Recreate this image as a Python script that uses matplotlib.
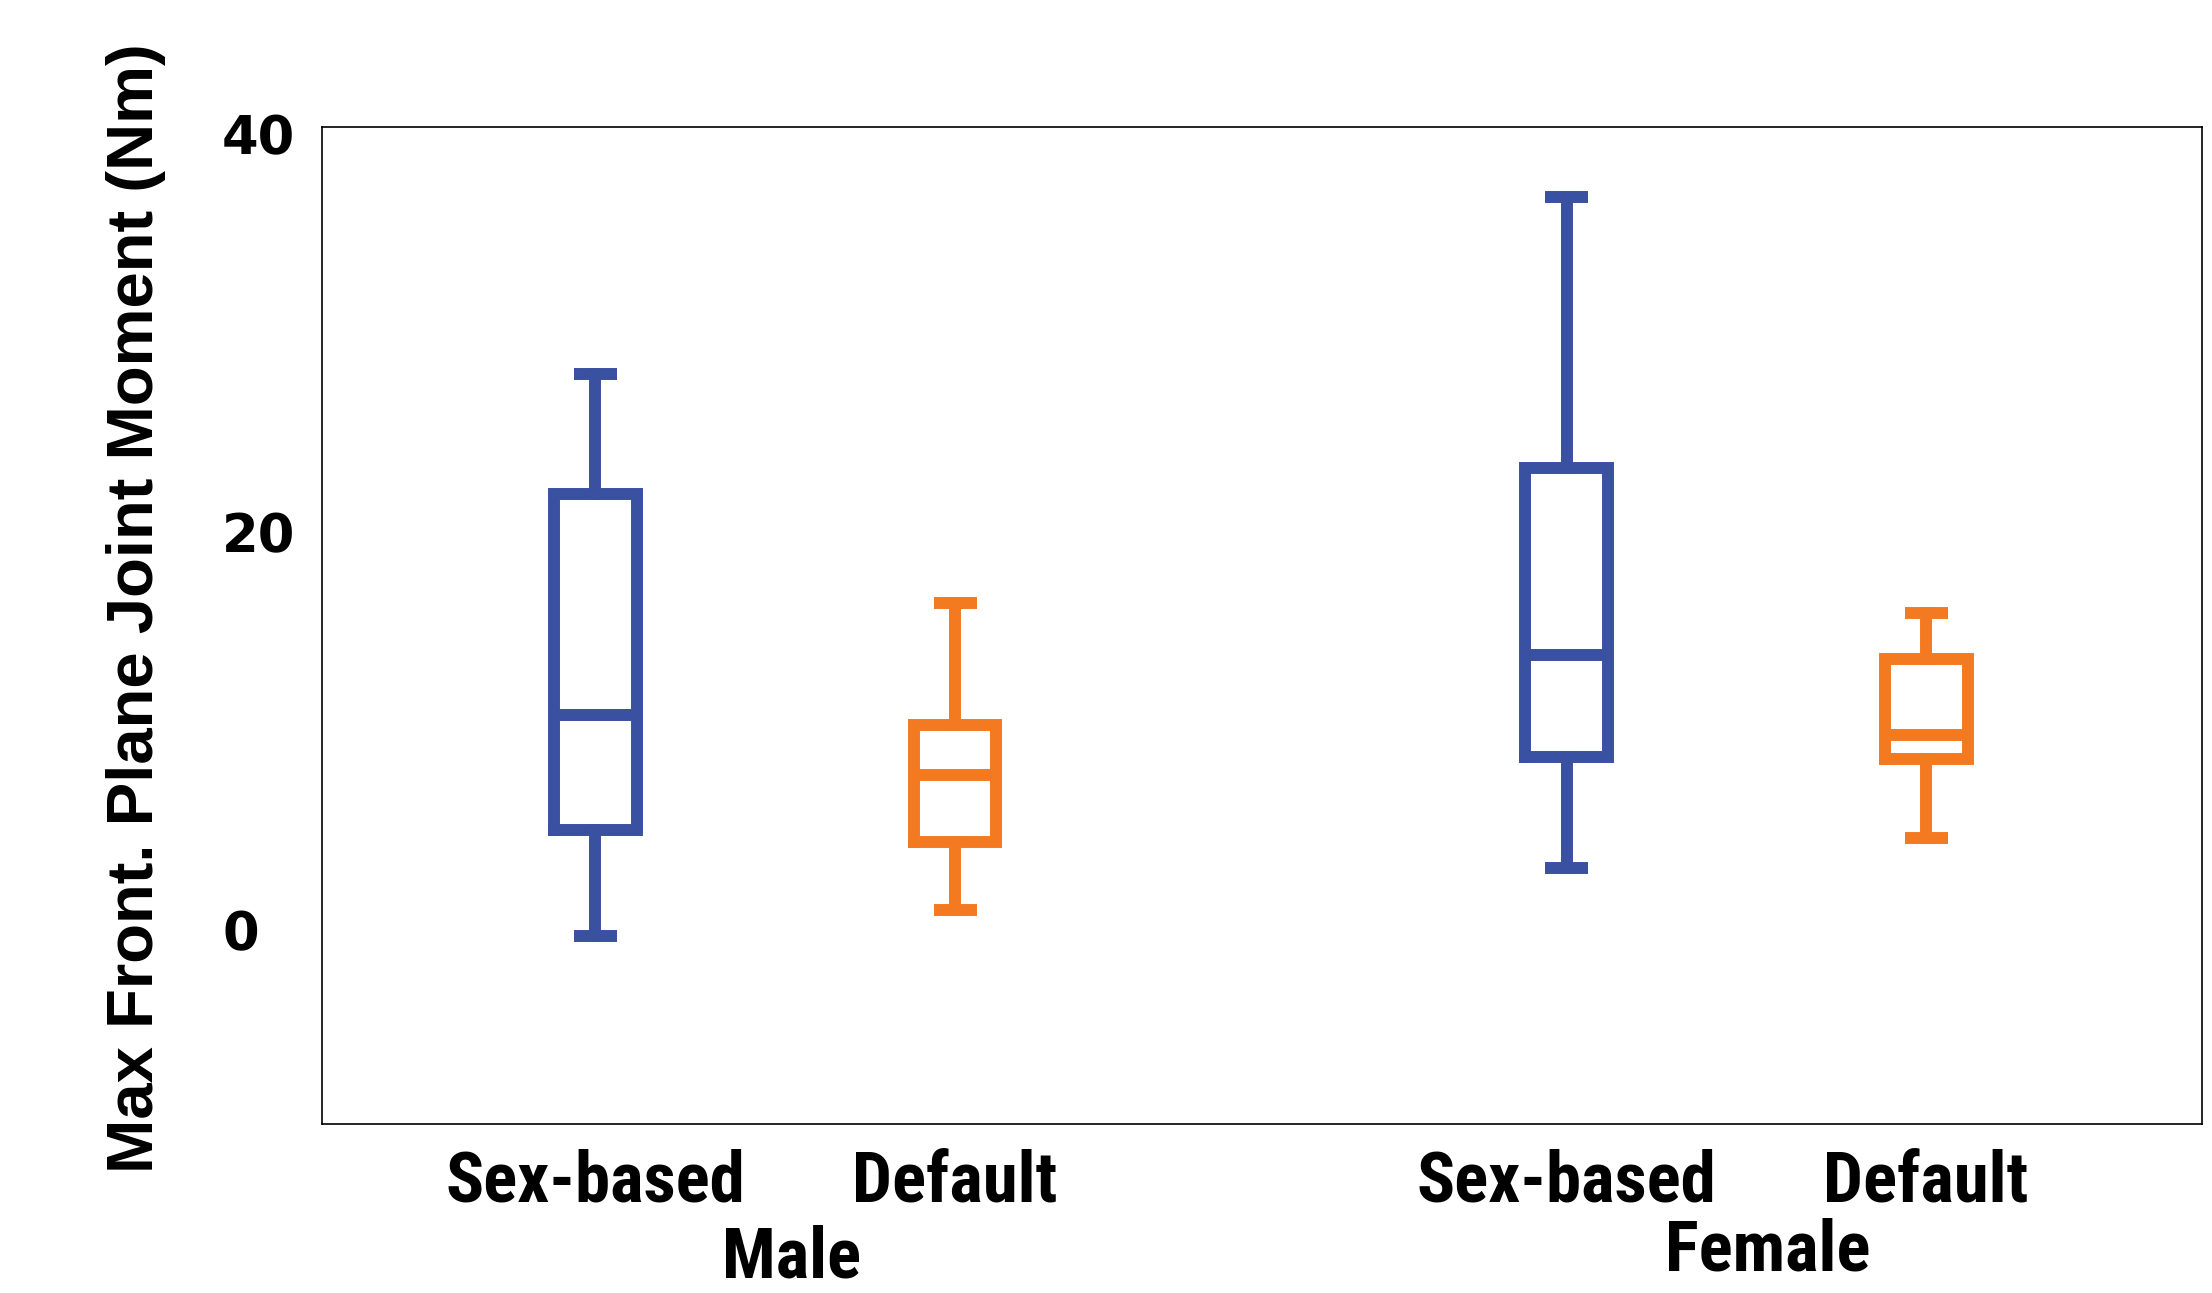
import matplotlib
matplotlib.use("Agg")
import matplotlib.pyplot as plt
from matplotlib import font_manager
from matplotlib.transforms import blended_transform_factory

# ---- data ----
groups = ["Male", "Female"]
models = ["Sex-based", "Default"]
whislo = [-0.3, 1.0, 3.1, 4.6]
q1     = [5.0, 4.4, 8.7, 8.6]
med    = [10.8, 7.8, 13.8, 9.8]
q3     = [21.9, 10.3, 23.2, 13.6]
whishi = [27.9, 16.4, 36.8, 15.9]
yticks = [0, 20, 40]

positions = [1, 2, 3.7, 4.7]
colors = ["#3A50A0", "#F47A22", "#3A50A0", "#F47A22"]

names = {f.name for f in font_manager.fontManager.ttflist}
cond_candidates = ["Liberation Sans Narrow", "Roboto Condensed", "Open Sans Condensed",
                   "Noto Sans Condensed", "DejaVu Sans Condensed"]
cond_found = [n for n in cond_candidates if n in names]
cond = (cond_found[:1] or ["Liberation Sans"]) + ["DejaVu Sans"]
is_narrow = bool(cond_found)
lab_size = 25.5 if is_narrow else 23

fig = plt.figure(figsize=(11.06, 6.465), dpi=200)
ax = fig.add_axes([0.1456, 0.1307, 0.8499, 0.7711])

for i in range(4):
    st = [dict(whislo=whislo[i], q1=q1[i], med=med[i], q3=q3[i],
               whishi=whishi[i], fliers=[])]
    c = colors[i]
    ax.bxp(st, positions=[positions[i]], widths=0.23, capwidths=0.12,
           showfliers=False, patch_artist=False,
           boxprops=dict(color=c, linewidth=4.3, solid_joinstyle="miter"),
           whiskerprops=dict(color=c, linewidth=4.3),
           capprops=dict(color=c, linewidth=4.3, solid_capstyle="butt"),
           medianprops=dict(color=c, linewidth=4.3, solid_capstyle="butt"))

ax.set_xlim(0.24, 5.467)
ax.set_ylim(-9.75, 40.33)
ax.set_yticks(yticks)
ax.set_yticklabels([str(v) for v in yticks], fontsize=19, fontweight="bold",
                   family="DejaVu Sans", ha="left")
ax.tick_params(axis="y", length=0, pad=36)
ax.set_xticks([])
for s in ax.spines.values():
    s.set_linewidth(0.6)
    s.set_color("black")

ax.set_ylabel("Max Front. Plane Joint Moment (Nm)", fontsize=23.5,
              fontweight="bold", family=["Liberation Sans", "DejaVu Sans"])
ax.yaxis.set_label_coords(-0.083, 0.517)

tr = blended_transform_factory(ax.transData, fig.transFigure)
for i, p in enumerate(positions):
    ax.text(p, 0.0862, models[i % 2], transform=tr, ha="center", va="center",
            fontsize=lab_size, fontweight="bold", family=cond)
ax.text(1.545, 0.0008, groups[0], transform=tr, ha="center", va="bottom",
        fontsize=lab_size, fontweight="bold", family=cond)
ax.text(4.26, 0.0065, groups[1], transform=tr, ha="center", va="bottom",
        fontsize=lab_size, fontweight="bold", family=cond)

fig.savefig("out.png", dpi=200)
